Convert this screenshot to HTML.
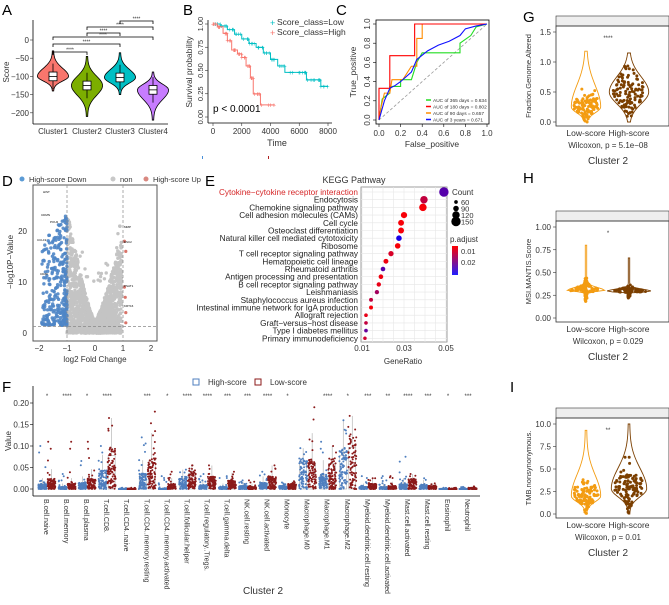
<!DOCTYPE html>
<html><head><meta charset="utf-8">
<style>
html,body{margin:0;padding:0;background:#fff;}
svg{display:block;font-family:"Liberation Sans",Arial,sans-serif;}
</style></head>
<body>
<svg id="fig" width="669" height="605" viewBox="0 0 669 605" xmlns="http://www.w3.org/2000/svg">
<g id="A"></g>
<g id="B"></g>
<g id="C"></g>
<g id="D"></g>
<g id="E"></g>
<g id="F"></g>
<g id="G"></g>
<g id="H"></g>
<g id="I"></g>
</svg>
<script>
// ---------- data ----------
const aClusters=["Cluster1","Cluster2","Cluster3","Cluster4"];
const aMedians=[-100,-125,-103,-137];
const aMin=[-140,-210,-150,-220];
const aMax=[-30,-45,-35,-88];
const aColors=["#F8766D","#7CAE00","#00BFC4","#C77CFF"];
const kmLowT=[0,500,1000,1500,2000,2500,3000,3500,4000,4500,5000,6200,6500,7300,7500,8000];
const kmLowS=[1.0,0.98,0.94,0.89,0.84,0.79,0.75,0.69,0.62,0.55,0.48,0.48,0.40,0.40,0.33,0.33];
const kmHighT=[0,300,700,1000,1300,1700,2000,2300,2600,2800,3300,4300];
const kmHighS=[1.0,0.97,0.9,0.82,0.72,0.68,0.64,0.55,0.42,0.25,0.13,0.13];
const rocFPR365=[0,0.03,0.1,0.1,0.2,0.2,0.3,0.35,0.4,0.43,0.75,0.75,0.85,0.9,1];
const rocTPR365=[0,0.22,0.28,0.35,0.35,0.42,0.42,0.6,0.7,0.7,0.7,0.8,0.88,0.97,1];
const rocFPR180=[0,0,0.1,0.1,0.33,0.33,1];
const rocTPR180=[0,0.33,0.33,0.67,0.67,1,1];
const rocFPR90=[0,0.02,0.05,0.1,0.12,0.22,0.3,0.35,0.35,0.4,0.4,1];
const rocTPR90=[0,0.14,0.28,0.28,0.42,0.42,0.56,0.56,0.85,0.85,1,1];
const rocFPR3y=[0,0.05,0.1,0.15,0.2,0.3,0.35,0.45,0.55,0.65,0.75,0.8,0.9,1];
const rocTPR3y=[0,0.2,0.33,0.36,0.4,0.5,0.63,0.72,0.78,0.82,0.88,0.95,0.98,1];
const keggTerms=["Cytokine−cytokine receptor interaction","Endocytosis","Chemokine signaling pathway","Cell adhesion molecules (CAMs)","Cell cycle","Osteoclast differentiation","Natural killer cell mediated cytotoxicity","Ribosome","T cell receptor signaling pathway","Hematopoietic cell lineage","Rheumatoid arthritis","Antigen processing and presentation","B cell receptor signaling pathway","Leishmaniasis","Staphylococcus aureus infection","Intestinal immune network for IgA production","Allograft rejection","Graft−versus−host disease","Type I diabetes mellitus","Primary immunodeficiency"];
const keggRatio=[0.049,0.0395,0.039,0.030,0.0286,0.0286,0.0276,0.027,0.0238,0.0214,0.020,0.019,0.018,0.0171,0.0143,0.0143,0.0119,0.0119,0.0119,0.0114];
const keggCount=[150,120,120,100,95,95,90,90,85,80,75,75,72,70,65,65,60,60,60,58];
const keggPadj=[0.022,0.008,0.001,0.001,0.001,0.001,0.03,0.001,0.005,0.002,0.022,0.002,0.003,0.012,0.008,0.001,0.003,0.008,0.02,0.006];
const fCats=["B.cell.naive","B.cell.memory","B.cell.plasma","T.cell.CD8.","T.cell.CD4..naive","T.cell.CD4..memory.resting","T.cell.CD4..memory.activated","T.cell.follicular.helper","T.cell.regulatory..Tregs.","T.cell.gamma.delta","NK.cell.resting","NK.cell.activated","Monocyte","Macrophage.M0","Macrophage.M1","Macrophage.M2","Myeloid.dendritic.cell.resting","Myeloid.dendritic.cell.activated","Mast.cell.activated","Mast.cell.resting","Eosinophil","Neutrophil"];
const fHighMed=[0.005,0.002,0.006,0.018,0.0,0.015,0.0,0.012,0.004,0.002,0.003,0.006,0.003,0.03,0.015,0.04,0.002,0.002,0.005,0.004,0.0,0.0];
const fLowMed=[0.01,0.005,0.01,0.04,0.0,0.03,0.005,0.018,0.012,0.008,0.002,0.012,0.005,0.03,0.03,0.05,0.005,0.003,0.01,0.003,0.0,0.001];
const fHighMax=[0.10,0.035,0.065,0.10,0.003,0.12,0.03,0.045,0.035,0.03,0.02,0.04,0.015,0.095,0.11,0.16,0.03,0.03,0.075,0.025,0.003,0.005];
const fLowMax=[0.11,0.11,0.11,0.165,0.003,0.18,0.04,0.055,0.055,0.04,0.02,0.055,0.018,0.19,0.1,0.17,0.025,0.03,0.035,0.013,0.003,0.006];
const fStars=["*","****","*","****","","***","*","****","****","***","***","****","*","","****","*","***","**","****","***","*","***"];
const gGroups=["Low-score","High-score"];
const gMed=[0.25,0.5];const gMax=[1.18,1.15];const gMin=[0,0];
const hMed=[0.3,0.29];const hMax=[0.8,0.66];const hMin=[0.18,0.22];
const iMed=[2.0,2.8];const iMax=[9.3,10];const iMin=[0,0];

// ---------- helpers ----------
const NS="http://www.w3.org/2000/svg";
function mk(parent,tag,attrs,txt){const e=document.createElementNS(NS,tag);for(const k in attrs)e.setAttribute(k,attrs[k]);if(txt!==undefined)e.textContent=txt;parent.appendChild(e);return e;}
let seed=12345;function rnd(){seed=(seed*1103515245+12345)%2147483648;return seed/2147483648;}
function gauss(){return (rnd()+rnd()+rnd()-1.5)/1.5;}
function panelLabel(g,t,x,y){const e=mk(g,"text",{x:x,y:y,"font-size":15});e.textContent=t;

}
function txt(g,x,y,s,opt){const e=mk(g,"text",Object.assign({x:x,y:y,"font-size":8,fill:"#333"},opt||{}),s);return e;}

// ---------- A ----------
(function(){const g=document.getElementById("A");panelLabel(g,"A",2,15);
const y=v=>40-(v/50)*18.2;const xs=[53,87,120,153];
mk(g,"line",{x1:33,y1:20,x2:33,y2:124,stroke:"#000","stroke-width":0.8});
mk(g,"line",{x1:33,y1:124,x2:168,y2:124,stroke:"#000","stroke-width":0.8});
[0,-50,-100,-150,-200].forEach(v=>{mk(g,"line",{x1:30,y1:y(v),x2:33,y2:y(v),stroke:"#333","stroke-width":0.6});txt(g,29,y(v)+3,String(v).replace("-","−"),{"text-anchor":"end"});});
const yt=txt(g,9,72,"Score",{transform:"rotate(-90 9 72)","text-anchor":"middle"});

aClusters.forEach((c,i)=>{const cx=xs[i];const m=aMedians[i],lo=aMin[i],hi=aMax[i];
 let pts=[];const N=30;for(let k=0;k<=N;k++){const v=hi+(lo-hi)*k/N;const d=(v-m)/((v>m?hi-m:m-lo)*0.45);const w=15*Math.exp(-d*d)+0.6;pts.push([w,y(v)]);}
 let d="M"+cx+","+y(hi);pts.forEach(p=>d+="L"+(cx+p[0])+","+p[1]);for(let k=pts.length-1;k>=0;k--)d+="L"+(cx-pts[k][0])+","+pts[k][1];d+="Z";
 const v=mk(g,"path",{d:d,fill:aColors[i],stroke:"#000","stroke-width":0.8});
 
 mk(g,"line",{x1:cx,y1:y(m+35),x2:cx,y2:y(m-35),stroke:"#000","stroke-width":0.8});
 mk(g,"rect",{x:cx-4,y:y(m+12),width:8,height:y(m-12)-y(m+12),fill:"#fff",stroke:"#000","stroke-width":0.8});
 mk(g,"line",{x1:cx-4,y1:y(m),x2:cx+4,y2:y(m),stroke:"#000","stroke-width":0.8});
 txt(g,cx,134,c,{"text-anchor":"middle"});});
[[0,1,52],[0,2,44],[0,3,37],[1,2,33],[1,3,27],[2,3,21]].forEach(b=>{const x1=xs[b[0]],x2=xs[b[1]],yy=b[2];
 mk(g,"path",{d:`M${x1},${yy+3}V${yy}H${x2}V${yy+3}`,fill:"none",stroke:"#000","stroke-width":0.8});
 txt(g,(x1+x2)/2,yy-0.5,"****",{"text-anchor":"middle","font-size":5});});
})();

// ---------- B ----------
(function(){const g=document.getElementById("B");panelLabel(g,"B",183,15);
const x=t=>213+t/8000*115;const y=s=>117-s*93;
mk(g,"line",{x1:208,y1:20,x2:208,y2:123,stroke:"#000","stroke-width":0.8});
mk(g,"line",{x1:208,y1:123,x2:332,y2:123,stroke:"#000","stroke-width":0.8});
[0,0.25,0.5,0.75,1].forEach(v=>{mk(g,"line",{x1:205,y1:y(v),x2:208,y2:y(v),stroke:"#333","stroke-width":0.6});txt(g,203,y(v),v.toFixed(2),{"text-anchor":"middle",transform:`rotate(-90 203 ${y(v)})`,"font-size":7.5});});
[0,2000,4000,6000,8000].forEach(v=>{mk(g,"line",{x1:x(v),y1:123,x2:x(v),y2:126,stroke:"#333","stroke-width":0.6});txt(g,x(v),134,String(v),{"text-anchor":"middle"});});
txt(g,277,146,"Time",{"text-anchor":"middle","font-size":9});
txt(g,192,72,"Survival probability",{"text-anchor":"middle",transform:"rotate(-90 192 72)","font-size":8.5});
function km(T,S,col,name){let d=`M${x(T[0])},${y(S[0])}`;for(let i=1;i<T.length;i++){d+=`H${x(T[i])}V${y(S[i])}`;}
 const p=mk(g,"path",{d:d,fill:"none",stroke:col,"stroke-width":1});
 for(let i=1;i<T.length;i++){for(let k=0;k<4;k++){const t=T[i-1]+(T[i]-T[i-1])*rnd();mk(g,"text",{x:x(t),y:y(S[i-1])+2.5,"font-size":7,fill:col,"text-anchor":"middle"},"+");}}}
km(kmLowT,kmLowS,"#00BFC4","km-low-line");km(kmHighT,kmHighS,"#F8766D","km-high-line");
txt(g,270,26,"+",{fill:"#00BFC4","font-size":9});txt(g,277,25,"Score_class=Low",{"font-size":8.5});
txt(g,270,36,"+",{fill:"#F8766D","font-size":9});txt(g,277,35,"Score_class=High",{"font-size":8.5});
txt(g,213,112,"p < 0.0001",{"font-size":10,fill:"#000"});
mk(g,"rect",{x:202,y:156,width:1,height:3,fill:"#4a90d9"});mk(g,"rect",{x:268,y:156,width:1,height:3,fill:"#b02020"});
})();

// ---------- C ----------
(function(){const g=document.getElementById("C");panelLabel(g,"C",336,15);
const x=v=>379+v*108;const y=v=>120-v*96;
mk(g,"rect",{x:376,y:20,width:113,height:104,fill:"none",stroke:"#000","stroke-width":0.8});
[0,0.2,0.4,0.6,0.8,1].forEach(v=>{txt(g,x(v),136,v.toFixed(1),{"text-anchor":"middle","font-size":8});mk(g,"line",{x1:x(v),y1:124,x2:x(v),y2:127,stroke:"#000","stroke-width":0.6});
 mk(g,"line",{x1:373,y1:y(v),x2:376,y2:y(v),stroke:"#000","stroke-width":0.6});txt(g,370,y(v),v.toFixed(1),{"text-anchor":"middle",transform:`rotate(-90 370 ${y(v)})`,"font-size":8});});
txt(g,432,147,"False_positive",{"text-anchor":"middle","font-size":8.5});
txt(g,356,72,"True_positive",{"text-anchor":"middle",transform:"rotate(-90 356 72)","font-size":8.5});
mk(g,"line",{x1:x(0),y1:y(0),x2:x(1),y2:y(1),stroke:"#999","stroke-dasharray":"3,2","stroke-width":0.8});
function roc(F,T,col,name){const p=mk(g,"polyline",{points:F.map((f,i)=>x(f)+","+y(T[i])).join(" "),fill:"none",stroke:col,"stroke-width":1.1});}
roc(rocFPR365,rocTPR365,"#22dd22","roc-365");roc(rocFPR90,rocTPR90,"#ff8c00","roc-90");roc(rocFPR180,rocTPR180,"#ff0000","roc-180");roc(rocFPR3y,rocTPR3y,"#1010ff","roc-3y");
[["AUC of 365 days = 0.634","#22dd22"],["AUC of 180 days = 0.802","#ff0000"],["AUC of 90 days = 0.657","#ff8c00"],["AUC of 3 years = 0.671","#1010ff"]].forEach((l,i)=>{const yy=100+i*6.5;mk(g,"line",{x1:426,y1:yy,x2:431,y2:yy,stroke:l[1],"stroke-width":1.5});txt(g,433,yy+1.8,l[0],{"font-size":4.8});});
})();

// ---------- D ----------
(function(){const g=document.getElementById("D");panelLabel(g,"D",2,186);
const x=v=>95+v*28;const y=v=>333-v*5.1;
[["High-score Down","#5b9bd5",7],["non","#c8c8c8",98],["High-score Up","#d98880",131]].forEach(l=>{mk(g,"circle",{cx:l[2]+15,cy:179,r:2.5,fill:l[1]});txt(g,l[2]+22,182,l[0],{"font-size":7.5});});
const pts=mk(g,"g",{});
for(let i=0;i<1700;i++){let fc=(rnd()*2-1)*1.0;if(fc>0.95||fc<-1.0)continue;const a=Math.abs(fc);const hmax=(fc<0?22:18)*Math.pow(a,1.3)+2.5;const p=hmax*Math.pow(rnd(),1.6);mk(pts,"circle",{cx:x(fc),cy:y(p),r:1.7,fill:"#c4c4c4"});}
for(let i=0;i<25;i++){const fc=-1+rnd()*1.9;const p=10+rnd()*14*Math.abs(fc);mk(pts,"circle",{cx:x(fc),cy:y(p),r:1.7,fill:"#c4c4c4"});}
for(let i=0;i<300;i++){const fc=-1.0-Math.pow(rnd(),1.6)*0.9;const p=1.5+Math.pow(rnd(),1.4)*22*(1-(-1-fc)*0.3);mk(pts,"circle",{cx:x(fc),cy:y(p),r:1.7,fill:"#4f86c6","fill-opacity":0.9});}
[[1.05,18],[1.1,16],[1.05,9],[1.1,4],[1.1,2],[1.08,7]].forEach(p=>mk(pts,"circle",{cx:x(p[0]),cy:y(p[1]),r:1.6,fill:"#d9746a"}));
mk(g,"rect",{x:33,y:185,width:124,height:156,fill:"none",stroke:"#555","stroke-width":1});
[x(-1),x(1)].forEach(xx=>mk(g,"line",{x1:xx,y1:185,x2:xx,y2:341,stroke:"#888","stroke-dasharray":"3,2","stroke-width":0.7}));
mk(g,"line",{x1:33,y1:y(1.3),x2:157,y2:y(1.3),stroke:"#888","stroke-dasharray":"3,2","stroke-width":0.7});
[0,10,20].forEach(v=>txt(g,27,y(v)+3,String(v),{"text-anchor":"end"}));
[-2,-1,0,1,2].forEach(v=>txt(g,x(v),351,String(v).replace("-","−"),{"text-anchor":"middle"}));
txt(g,95,362,"log2 Fold Change",{"text-anchor":"middle"});
txt(g,13,262,"−log10P−Value",{"text-anchor":"middle",transform:"rotate(-90 13 262)"});
[["HIST",43,193],["CDMN",41,216],["POU2",50,223],["CCL19",37,241],["CD20",40,275],["MMP",124,228],["ESC2",124,243],["PSAT1",124,287],["KRT16",124,307]].forEach(l=>txt(g,l[1],l[2],l[0],{"font-size":3,fill:"#000"}));
})();

// ---------- E ----------
(function(){const g=document.getElementById("E");panelLabel(g,"E",205,186);
const x=r=>362+(r-0.01)*2100;const y=i=>192+i*7.7;
txt(g,354,183,"KEGG Pathway",{"text-anchor":"middle","font-size":9});
mk(g,"rect",{x:361,y:187,width:86,height:155,fill:"#fff",stroke:"#888","stroke-width":0.8});
for(let k=0;k<9;k++){const xx=x(0.01+k*0.005);mk(g,"line",{x1:xx,y1:187,x2:xx,y2:342,stroke:"#e6e6e6","stroke-width":0.6});}
keggTerms.forEach((t,i)=>{mk(g,"line",{x1:361,y1:y(i),x2:447,y2:y(i),stroke:"#e6e6e6","stroke-width":0.6});
 const l=txt(g,358,y(i)+3,t,{"text-anchor":"end","font-size":8.2,fill:i==0?"#d62728":"#222"});});
function col(p){const f=Math.min(1,p/0.033);const r=Math.round(255*(1-f)),b=Math.round(255*f);return `rgb(${r},0,${b})`;}
keggRatio.forEach((r,i)=>{const c=mk(g,"circle",{cx:x(r),cy:y(i),r:1.5+(keggCount[i]-50)/100*3.2,fill:col(keggPadj[i])});
 });
[0.01,0.03,0.05].forEach(v=>txt(g,x(v),351,v.toFixed(2),{"text-anchor":"middle"}));
txt(g,403,364,"GeneRatio",{"text-anchor":"middle"});
txt(g,452,195,"Count",{"font-size":8});
[60,90,120,150].forEach((v,i)=>{mk(g,"circle",{cx:456,cy:202+i*6.5,r:1.5+(v-50)/100*3.2,fill:"#000"});txt(g,461,205+i*6.5,String(v),{"font-size":7.5});});
txt(g,450,242,"p.adjust",{"font-size":8});
const gr=mk(g,"defs",{});const lg=mk(gr,"linearGradient",{id:"pg",x1:0,y1:0,x2:0,y2:1});mk(lg,"stop",{offset:0,"stop-color":"#ff0000"});mk(lg,"stop",{offset:1,"stop-color":"#2020ff"});
mk(g,"rect",{x:452,y:246,width:6,height:29,fill:"url(#pg)"});
txt(g,461,254,"0.01",{"font-size":7.5});txt(g,461,265,"0.02",{"font-size":7.5});
})();

// ---------- F ----------
(function(){const g=document.getElementById("F");panelLabel(g,"F",2,392);
const x=i=>47+i*20.05;const y=v=>489-v*430;
mk(g,"line",{x1:33,y1:386,x2:33,y2:496,stroke:"#000","stroke-width":0.8});
mk(g,"line",{x1:33,y1:496,x2:480,y2:496,stroke:"#000","stroke-width":0.8});
[0,0.05,0.1,0.15,0.2].forEach(v=>{mk(g,"line",{x1:30,y1:y(v),x2:33,y2:y(v),stroke:"#000","stroke-width":0.6});txt(g,29,y(v)+3,v.toFixed(2),{"text-anchor":"end"});});
txt(g,11,441,"Value",{"text-anchor":"middle",transform:"rotate(-90 11 441)"});
mk(g,"rect",{x:193,y:379,width:6,height:6,fill:"none",stroke:"#4f7fbf"});txt(g,208,385,"High-score");
mk(g,"rect",{x:255,y:379,width:6,height:6,fill:"none",stroke:"#8b1a1a"});txt(g,270,385,"Low-score");
fCats.forEach((c,i)=>{const cx=x(i);
 [[fHighMed[i],fHighMax[i],"#4f7fbf",-4.5],[fLowMed[i],fLowMax[i],"#8b1a1a",4.5]].forEach(s=>{const bx=cx+s[3];
  const q3=s[0]*1.9+0.002;mk(g,"rect",{x:bx-3.5,y:y(q3),width:7,height:Math.max(1,y(0)-y(q3)),fill:"none",stroke:"#aaa","stroke-width":0.6});
  mk(g,"line",{x1:bx,y1:y(q3),x2:bx,y2:y(Math.min(s[1],q3*2.2)),stroke:"#aaa","stroke-width":0.6});
  const n=90;for(let k=0;k<n;k++){let v=s[0]*Math.pow(rnd(),1.2)*2.4+(k%9==0?rnd()*rnd()*(s[1]-s[0]):0);if(k==0)v=s[1];if(k==1)v=s[1]*0.85;v=Math.min(v,s[1]);mk(g,"circle",{cx:bx+(rnd()-0.5)*8,cy:y(v),r:1,fill:s[2]});}
 });
 txt(g,cx,398,fStars[i],{"text-anchor":"middle","font-size":6});
 const t=txt(g,cx-3,499,c,{transform:`rotate(90 ${cx-3} 499)`,"font-size":7});
 });
txt(g,263,594,"Cluster 2",{"text-anchor":"middle","font-size":10});
})();

// ---------- G/H/I ----------
function vpanel(id,L,lx,ly,top,bot,ticks,ymax,yMin0,title,med,mx,mn,star,wil,shape,wid){
const g=document.getElementById(id);panelLabel(g,L,lx,ly);
const y0=bot-4,y1=top+6;const y=v=>y0-(v-yMin0)/(ymax-yMin0)*(y0-y1);
mk(g,"rect",{x:556,y:top-10,width:113,height:10,fill:"#eee",stroke:"#333","stroke-width":0.6});
mk(g,"rect",{x:556,y:top,width:113,height:bot-top,fill:"none",stroke:"#333","stroke-width":0.8});
ticks.forEach(v=>{mk(g,"line",{x1:553,y1:y(v),x2:556,y2:y(v),stroke:"#333","stroke-width":0.6});txt(g,551,y(v)+3,v.toFixed(ticks.dec),{"text-anchor":"end"});});
txt(g,531,(top+bot)/2,title,{"text-anchor":"middle",transform:`rotate(-90 531 ${(top+bot)/2})`,"font-size":7.5});
const xs=[586,629];const cols=["#f39c12","#7b3f00"];
[0,1].forEach(i=>{const cx=xs[i];let ptsL=[];const N=40;for(let k=0;k<=N;k++){const v=mn[i]+(mx[i]-mn[i])*k/N;const d=(v-med[i])/((v>med[i]?mx[i]-med[i]:med[i]-mn[i])*shape);const w=wid[i]*Math.exp(-d*d)+0.7;ptsL.push([w,y(v)]);}
 let d="M"+(cx+ptsL[0][0])+","+ptsL[0][1];ptsL.forEach(p=>d+="L"+(cx+p[0])+","+p[1]);for(let k=ptsL.length-1;k>=0;k--)d+="L"+(cx-ptsL[k][0])+","+ptsL[k][1];d+="Z";
 const v=mk(g,"path",{d:d,fill:"none",stroke:cols[i],"stroke-width":0.9});
 for(let k=0;k<110;k++){const vv=Math.max(mn[i],Math.min(mx[i]*0.95,med[i]+gauss()*(med[i]-mn[i]+0.05*(mx[i]-mn[i]))*1.1));const dd=(vv-med[i])/((vv>med[i]?mx[i]-med[i]:med[i]-mn[i]+1e-6)*shape);const w=wid[i]*0.8*Math.exp(-dd*dd)+1;mk(g,"circle",{cx:cx+(rnd()-0.5)*2*w,cy:y(vv),r:1.5,fill:cols[i]});}
 txt(g,cx,bot+10,gGroups[i],{"text-anchor":"middle","font-size":8.5});});
txt(g,608,top+14,star,{"text-anchor":"middle","font-size":6});
txt(g,608,bot+22,wil,{"text-anchor":"middle","font-size":8});
txt(g,608,bot+38,"Cluster 2",{"text-anchor":"middle","font-size":10});}
const tG=[0,0.5,1,1.5];tG.dec=1;const tH=[0,0.25,0.5,0.75,1];tH.dec=2;const tI=[0,2.5,5,7.5,10];tI.dec=1;
vpanel("G","G",523,22,26,126,tG,1.5,0,"Fraction.Genome.Altered",gMed,gMax,gMin,"****","Wilcoxon, p = 5.1e−08",0.55,[14,19]);
vpanel("H","H",523,183,221,322,tH,1.0,0,"MSI.MANTIS.Score",hMed,hMax,hMin,"*","Wilcoxon, p = 0.029",0.1,[18,22]);
vpanel("I","I",510,392,418,518,tI,10,0,"TMB.nonsynonymous.",iMed,iMax,iMin,"**","Wilcoxon, p = 0.01",0.45,[14,17]);
</script>
</body></html>
